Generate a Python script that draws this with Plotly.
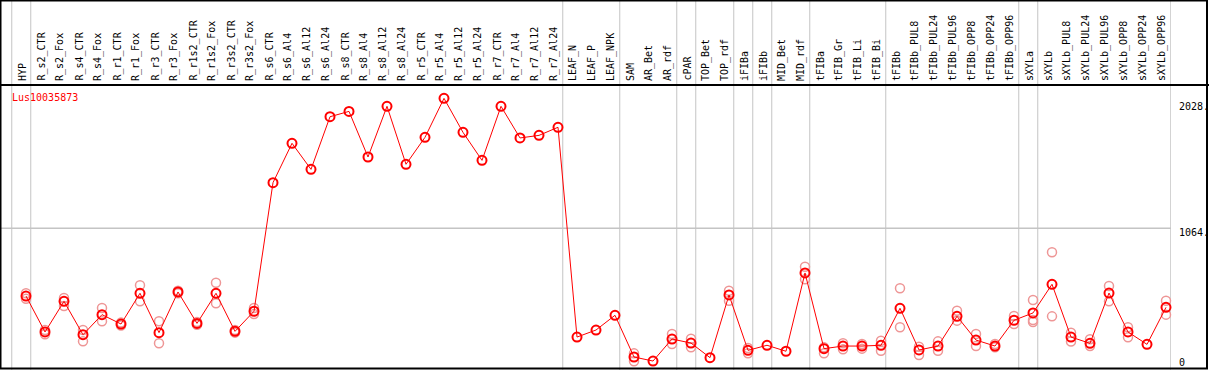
import plotly.graph_objects as go

gene = "Lus10035873"

labels = ["HYP", "R_s2_CTR", "R_s2_Fox", "R_s4_CTR", "R_s4_Fox", "R_r1_CTR", "R_r1_Fox",
          "R_r3_CTR", "R_r3_Fox", "R_r1s2_CTR", "R_r1s2_Fox", "R_r3s2_CTR", "R_r3s2_Fox",
          "R_s6_CTR", "R_s6_Al4", "R_s6_Al12", "R_s6_Al24", "R_s8_CTR", "R_s8_Al4",
          "R_s8_Al12", "R_s8_Al24", "R_r5_CTR", "R_r5_Al4", "R_r5_Al12", "R_r5_Al24",
          "R_r7_CTR", "R_r7_Al4", "R_r7_Al12", "R_r7_Al24", "LEAF_N", "LEAF_P", "LEAF_NPK",
          "SAM", "AR_Bet", "AR_rdf", "cPAR", "TOP_Bet", "TOP_rdf", "iFIBa", "iFIBb",
          "MID_Bet", "MID_rdf", "tFIBa", "tFIB_Gr", "tFIB_Li", "tFIB_Bi", "tFIBb",
          "tFIBb_PUL8", "tFIBb_PUL24", "tFIBb_PUL96", "tFIBb_OPP8", "tFIBb_OPP24",
          "tFIBb_OPP96", "sXYLa", "sXYLb", "sXYLb_PUL8", "sXYLb_PUL24", "sXYLb_PUL96",
          "sXYLb_OPP8", "sXYLb_OPP24", "sXYLb_OPP96"]

means = [544, 268, 503, 247, 401, 329, 565, 263, 575, 334, 565, 273, 427,
         1414, 1716, 1516, 1920, 1961, 1611, 2000, 1555, 1762, 2061, 1800, 1585,
         2000, 1757, 1777, 1839, 229, 283, 396,
         76, 45, 214, 183, 71, 552, 127, 166, 120, 721,
         140, 160, 160, 166, 450, 130, 160, 388, 206, 160, 358,
         414, 634, 229, 181, 567, 268, 173, 457]

rep_a = [565, 283, 529, 283, 452, 340, 626, 350, 585, 345, 646, 283, 452,
         None, None, None, None, None, None, None, None, None, None, None, None,
         None, None, None, None, None, None, None,
         104, None, 252, 216, None, 585, 145, None, None, 769,
         150, 181, 176, 201, 603, 155, 196, 431, 252, 176, 391,
         513, 880, 263, 212, 621, 304, None, 508]

rep_b = [523, 250, 467, 196, 350, 318, 503, 181, 565, 323, 488, 263, 406,
         None, None, None, None, None, None, None, None, None, None, None, None,
         None, None, None, None, None, None, None,
         43, None, 176, 150, None, 508, 104, None, None, 672,
         104, 135, 140, 124, 304, 91, 124, 355, 160, 150, 329,
         360, 388, 194, 160, 503, 227, None, 401]

rep_c = [None] * 53 + [345] + [None] * 7

# separators drawn after these column indices (0-based; -1 = before the first)
separators_after = [-1, 0, 28, 31, 34, 35, 37, 38, 39, 41, 45, 52, 53, 60]

ytick_vals = [0, 1064, 2028]
ytick_text = ["0", "1064.", "2028."]
grid_vals = [1064]

W, H = 1209, 370
ML, MR, MT, MB = 1, 38, 86, 2
PW = W - ML - MR
PH = H - MT - MB

x0_px, step_px = 26, 19
xr = [(ML - x0_px) / step_px, (ML + PW - x0_px) / step_px]
zero_px, px_per_unit = 366.9, 0.1303
yr = [(zero_px - (MT + PH)) / px_per_unit, (zero_px - MT) / px_per_unit]

mono = "DejaVu Sans Mono"
xs = list(range(len(labels)))

fig = go.Figure()

for reps in (rep_a, rep_b, rep_c):
    fig.add_trace(go.Scatter(
        x=xs, y=reps, mode="markers",
        marker=dict(symbol="circle-open", size=9, color="rgb(238,150,150)",
                    line=dict(width=1.5, color="rgb(238,150,150)")),
        hoverinfo="skip", showlegend=False, cliponaxis=False))

fig.add_trace(go.Scatter(
    x=xs, y=means, mode="lines+markers",
    line=dict(color="#ff0000", width=1),
    marker=dict(symbol="circle-open", size=9, color="#ff0000",
                line=dict(width=2, color="#ff0000")),
    showlegend=False, cliponaxis=False))

shapes = []
top_paper = 1 + MT / PH
bot_paper = -MB / PH
for j in separators_after:
    xv = j + 0.25
    shapes.append(dict(type="line", xref="x", yref="paper", x0=xv, x1=xv,
                       y0=bot_paper, y1=top_paper,
                       line=dict(color="#c4c4c4", width=1), layer="below"))
for gv in grid_vals:
    shapes.append(dict(type="line", xref="paper", yref="y", x0=0, x1=1, y0=gv, y1=gv,
                       line=dict(color="#c4c4c4", width=1.5), layer="below"))
# header separator line
shapes.append(dict(type="line", xref="paper", yref="paper",
                   x0=-ML / PW, x1=(PW + MR) / PW, y0=1 + 1 / PH, y1=1 + 1 / PH,
                   line=dict(color="black", width=2)))
# outer frame
shapes.append(dict(type="rect", xref="paper", yref="paper",
                   x0=(0 - ML + 0.5) / PW, x1=(1207 - ML) / PW,
                   y0=(MT + PH - 368.5) / PH, y1=(MT + PH - 0.5) / PH,
                   line=dict(color="black", width=2), fillcolor="rgba(0,0,0,0)"))

annotations = []
for i, lab in enumerate(labels):
    annotations.append(dict(text=lab, x=i, xref="x", y=1, yref="paper",
                            xanchor="center", yanchor="bottom", textangle=-90,
                            xshift=-4, yshift=3, showarrow=False,
                            font=dict(family=mono, size=10, color="black")))
for v, t in zip(ytick_vals, ytick_text):
    annotations.append(dict(text=t, x=1, xref="paper", y=v, yref="y",
                            xanchor="left", yanchor="middle", xshift=6,
                            yshift=4 if v == 0 else -4, showarrow=False,
                            font=dict(family=mono, size=10, color="black")))
annotations.append(dict(text=gene, x=(9.5 - ML) / PW, xref="paper",
                        y=(MT + PH - 97) / PH, yref="paper", xanchor="left",
                        yanchor="middle", showarrow=False,
                        font=dict(family=mono, size=10, color="#ff0000")))

fig.update_layout(
    width=W, height=H,
    margin=dict(l=ML, r=MR, t=MT, b=MB, pad=0),
    paper_bgcolor="white", plot_bgcolor="white",
    xaxis=dict(range=xr, showgrid=False, zeroline=False, showticklabels=False,
               showline=False, ticks="", fixedrange=True),
    yaxis=dict(range=yr, showgrid=False, zeroline=False, showticklabels=False,
               showline=False, ticks="", fixedrange=True),
    shapes=shapes, annotations=annotations, showlegend=False,
)

fig.write_html("out.html", config={"displayModeBar": False},
               post_script="document.body.style.margin='0';document.body.style.overflow='hidden';")
